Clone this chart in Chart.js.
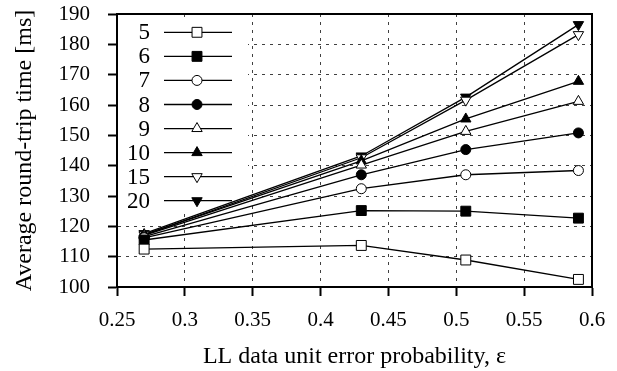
<!DOCTYPE html>
<html>
<head>
<meta charset="utf-8">
<script src="https://cdn.jsdelivr.net/npm/chart.js@4/dist/chart.umd.min.js"></script>
<style>
  html, body { margin: 0; padding: 0; background: #fff; }
</style>
</head>
<body>
<canvas id="rtt" width="617" height="371"></canvas>
<script>
const errorProbs = [0.27, 0.43, 0.507, 0.59];
const seriesNames = ['5', '6', '7', '8', '9', '10', '15', '20'];
const rtt5 = [112.5, 113.7, 108.9, 102.5];
const rtt6 = [115.5, 125.2, 125.0, 122.7];
const rtt7 = [116.2, 132.4, 137.0, 138.4];
const rtt8 = [116.6, 137.0, 145.3, 150.8];
const rtt9 = [117.0, 140.2, 151.3, 161.2];
const rtt10 = [117.3, 141.6, 155.4, 167.8];
const rtt15 = [117.2, 142.6, 161.6, 183.2];
const rtt20 = [117.6, 143.2, 162.6, 186.5];
const xTicks = [0.25, 0.3, 0.35, 0.4, 0.45, 0.5, 0.55, 0.6];
const yTicks = [100, 110, 120, 130, 140, 150, 160, 170, 180, 190];

const FONT = "'Liberation Serif', 'DejaVu Serif', serif";

// marker per series: style, rotation, filled
const markers = [
  { style: 'rect', rotation: 0, filled: false, radius: 7 },
  { style: 'rect', rotation: 0, filled: true, radius: 7 },
  { style: 'circle', rotation: 0, filled: false, radius: 5 },
  { style: 'circle', rotation: 0, filled: true, radius: 5 },
  { style: 'triangle', rotation: 0, filled: false, radius: 6 },
  { style: 'triangle', rotation: 0, filled: true, radius: 6 },
  { style: 'triangle', rotation: 180, filled: false, radius: 6 },
  { style: 'triangle', rotation: 180, filled: true, radius: 6 },
];

const allSeries = [rtt5, rtt6, rtt7, rtt8, rtt9, rtt10, rtt15, rtt20];

const datasets = allSeries.map((vals, i) => {
  const m = markers[i];
  return {
    label: seriesNames[i],
    data: vals.map((v, j) => ({ x: errorProbs[j], y: v })),
    borderColor: '#000',
    borderWidth: 1.3,
    tension: 0,
    fill: false,
    pointStyle: m.style,
    pointRotation: m.rotation,
    pointRadius: m.radius,
    pointHoverRadius: m.radius,
    pointBorderWidth: 1,
    pointBorderColor: '#000',
    pointBackgroundColor: m.filled ? '#000' : '#fff',
  };
});

const legendBox = {
  id: 'legendBox',
  beforeDatasetsDraw(chart) {
    const { ctx, chartArea } = chart;
    const drawPoint = Chart.helpers && Chart.helpers.drawPoint;
    ctx.save();
    ctx.fillStyle = '#fff';
    ctx.fillRect(chartArea.left + 1, chartArea.top + 7, 130, 190);
    ctx.font = '23px ' + FONT;
    ctx.textAlign = 'right';
    ctx.textBaseline = 'middle';
    chart.data.datasets.forEach((ds, i) => {
      const y = chartArea.top + 18.3 + i * 24.06;
      ctx.fillStyle = '#000';
      ctx.fillText(ds.label, chartArea.left + 33, y + 1);
      ctx.strokeStyle = '#000';
      ctx.lineWidth = 1.3;
      ctx.beginPath();
      ctx.moveTo(chartArea.left + 47, y);
      ctx.lineTo(chartArea.left + 115, y);
      ctx.stroke();
      if (drawPoint) {
        const m = markers[i];
        ctx.lineWidth = 1;
        ctx.fillStyle = m.filled ? '#000' : '#fff';
        drawPoint(ctx, { pointStyle: m.style, rotation: m.rotation, radius: m.radius, borderWidth: 1 }, chartArea.left + 80, y);
      }
    });
    ctx.restore();
  },
  afterDraw(chart) {
    const { ctx, chartArea } = chart;
    ctx.save();
    ctx.strokeStyle = '#000';
    ctx.lineWidth = 2;
    ctx.beginPath();
    ctx.moveTo(chartArea.left - 1, chartArea.top);
    ctx.lineTo(chartArea.right, chartArea.top);
    ctx.lineTo(chartArea.right, chartArea.bottom + 1);
    ctx.stroke();
    ctx.restore();
  },
};

new Chart(document.getElementById('rtt'), {
  type: 'line',
  data: { datasets },
  plugins: [legendBox],
  options: {
    responsive: false,
    animation: false,
    devicePixelRatio: 1,
    layout: { padding: { top: 14, right: 25, left: 0, bottom: 0 } },
    plugins: {
      legend: { display: false },
      tooltip: { enabled: false },
    },
    scales: {
      x: {
        type: 'linear',
        min: 0.25,
        max: 0.6,
        afterBuildTicks: (scale) => { scale.ticks = xTicks.map((v) => ({ value: v })); },
        afterFit: (scale) => {
          scale.height = 84;
          scale.paddingLeft = 0;
          scale.paddingRight = 0;
        },
        ticks: {
          color: '#000',
          font: { family: FONT, size: 21 },
          padding: 12,
          maxRotation: 0,
          autoSkip: false,
          callback: (v) => String(Number(v.toFixed(2))),
        },
        grid: {
          color: 'rgba(0,0,0,0.75)',
          lineWidth: 1,
          drawTicks: true,
          tickLength: 9,
          tickColor: '#000',
          tickWidth: 2,
          tickBorderDash: [],
        },
        border: { display: true, color: '#000', width: 2, dash: [3, 5] },
        title: {
          display: true,
          text: 'LL data unit error probability, \u03b5',
          color: '#000',
          font: { family: FONT, size: 24 },
          padding: { top: 6, bottom: 0 },
        },
      },
      y: {
        type: 'linear',
        min: 100,
        max: 190,
        afterBuildTicks: (scale) => { scale.ticks = yTicks.map((v) => ({ value: v })); },
        afterFit: (scale) => {
          scale.width = 117;
          scale.paddingTop = 0;
          scale.paddingBottom = 0;
        },
        ticks: {
          color: '#000',
          font: { family: FONT, size: 21 },
          padding: 18,
          autoSkip: false,
        },
        grid: {
          color: 'rgba(0,0,0,0.75)',
          lineWidth: 1,
          drawTicks: true,
          tickLength: 9,
          tickColor: '#000',
          tickWidth: 2,
          tickBorderDash: [],
        },
        border: { display: true, color: '#000', width: 2, dash: [3, 5] },
        title: {
          display: true,
          text: 'Average round-trip time [ms]',
          color: '#000',
          font: { family: FONT, size: 24 },
          padding: { top: 10, bottom: 0 },
        },
      },
    },
  },
});
</script>
</body>
</html>
